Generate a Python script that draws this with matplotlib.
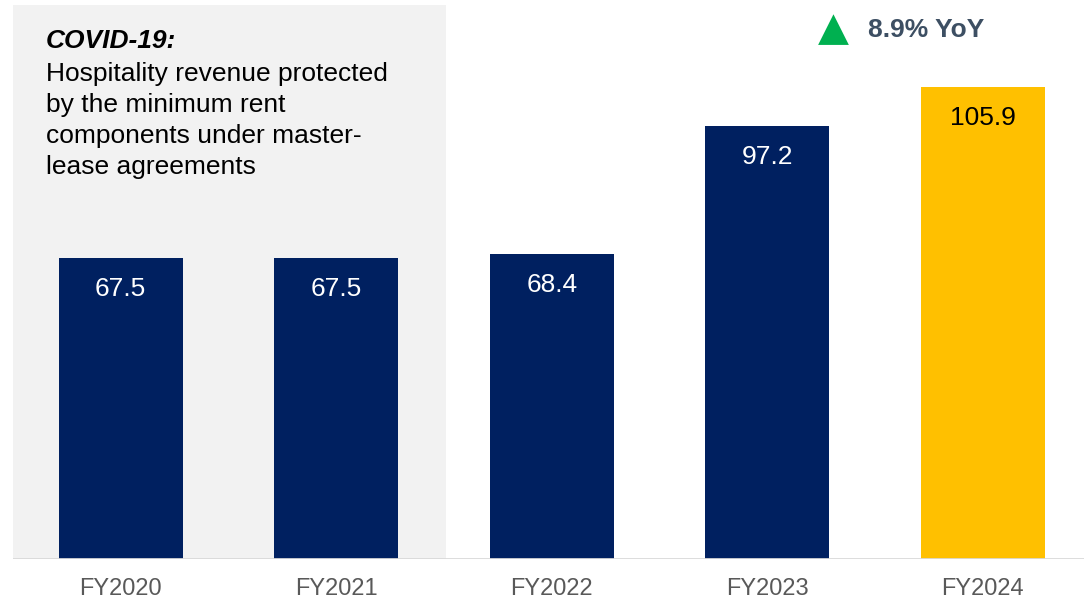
import matplotlib
matplotlib.use('Agg')
import matplotlib.pyplot as plt

years = ['FY2020', 'FY2021', 'FY2022', 'FY2023', 'FY2024']
revenue = [67.5, 67.5, 68.4, 97.2, 105.9]
bar_colors = ['#002060', '#002060', '#002060', '#002060', '#ffc000']
label_colors = ['white', 'white', 'white', 'white', 'black']
yoy_text = '8.9% YoY'
note_title = 'COVID-19:'
note_lines = ['Hospitality revenue protected',
              'by the minimum rent',
              'components under master-',
              'lease agreements']

plt.rcParams['font.family'] = ['Liberation Sans', 'DejaVu Sans']

fig = plt.figure(figsize=(10.84, 6.01), dpi=100)
ax = fig.add_axes([13 / 1084, 42 / 601, 1071 / 1084, 554 / 601])

x = list(range(len(years)))
ax.set_xlim(-0.5, 4.47)
ax.set_ylim(0, 124.3)

# grey shaded COVID period
ax.axvspan(-0.5, 1.51, color='#f2f2f2', zorder=0, lw=0)

bars = ax.bar(x, revenue, width=0.575, color=bar_colors, zorder=2)
for xi, v, c in zip(x, revenue, label_colors):
    ax.text(xi, v - 6.9, f'{v:.1f}', ha='center', va='center',
            fontsize=19, color=c, zorder=3)

ax.axhline(0, color='#d9d9d9', lw=2, zorder=4)

ax.set_xticks(x)
ax.set_xticklabels(years, fontsize=17, color='#595959')
ax.tick_params(axis='x', length=0, pad=14)
ax.set_yticks([])
for s in ax.spines.values():
    s.set_visible(False)

# note box text
fig.text(46 / 1084, 1 - 41 / 601, note_title, fontsize=19, fontweight='bold',
         fontstyle='italic', va='center', ha='left', color='black')
for i, line in enumerate(note_lines):
    fig.text(46 / 1084, 1 - (74 + 31 * i) / 601, line, fontsize=19,
             va='center', ha='left', color='black')

# YoY annotation
fig.text(833 / 1084, 1 - 29 / 601, '\u25B2', fontsize=29, color='#00b050',
         ha='center', va='center', family=['DejaVu Sans'])
fig.text(868 / 1084, 1 - 30 / 601, yoy_text, fontsize=19, fontweight='bold',
         color='#3d4f63', ha='left', va='center')

fig.savefig('out.png', dpi=100)
